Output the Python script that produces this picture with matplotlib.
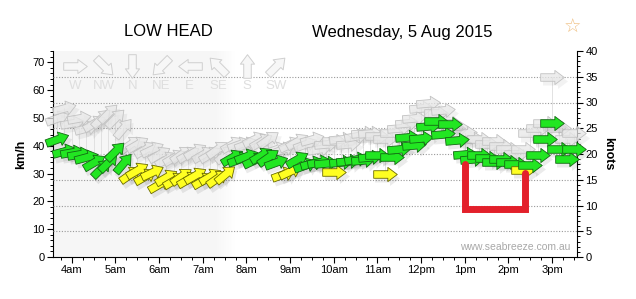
import matplotlib
matplotlib.use('Agg')
import matplotlib.pyplot as plt
import numpy as np
from matplotlib.path import Path
from matplotlib.markers import MarkerStyle
from matplotlib.transforms import Affine2D, ScaledTranslation
from matplotlib.ticker import MultipleLocator

plt.rcParams['font.family'] = ['Liberation Sans', 'DejaVu Sans']

# observations, 10 minute steps
times = ['03:40', '03:50',
         '04:00', '04:10', '04:20', '04:30', '04:40', '04:50',
         '05:00', '05:10', '05:20', '05:30', '05:40', '05:50',
         '06:00', '06:10', '06:20', '06:30', '06:40', '06:50',
         '07:00', '07:10', '07:20', '07:30', '07:40', '07:50',
         '08:00', '08:10', '08:20', '08:30', '08:40', '08:50',
         '09:00', '09:10', '09:20', '09:30', '09:40', '09:50',
         '10:00', '10:10', '10:20', '10:30', '10:40', '10:50',
         '11:00', '11:10', '11:20', '11:30', '11:40', '11:50',
         '12:00', '12:10', '12:20', '12:30', '12:40', '12:50',
         '13:00', '13:10', '13:20', '13:30', '13:40', '13:50',
         '14:00', '14:10', '14:20', '14:30', '14:40', '14:50',
         '15:00', '15:10', '15:20', '15:30']

avg_kts = [23.0, 20.5,
           20.3, 20.0, 19.5, 18.5, 17.3, 18.5,
           20.5, 18.3, 16.2, 16.8, 15.8, 16.5,
           14.2, 15.5, 15.0, 15.8, 15.2, 15.9,
           15.0, 15.7, 15.3, 16.2, 19.5, 19.0,
           19.6, 18.8, 19.9, 19.5, 18.5, 16.2,
           16.7, 19.0, 17.8, 18.3, 18.5, 18.3,
           16.5, 18.4, 18.6, 19.0, 18.8, 19.5,
           19.8, 16.1, 19.5, 21.0, 23.3, 21.8,
           23.2, 25.5, 26.5, 23.8, 25.8, 22.8,
           20.0, 19.0, 19.8, 19.2, 18.4, 19.0,
           18.5, 18.0, 16.9, 17.9, 19.8, 23.0,
           26.0, 21.0, 19.0, 21.0]

gust_kts = [27, 29,
            26, 27, 25, 26, 27, 28,
            27, 25, 22, 22, 21, 21,
            20, 19, 19.5, 20, 20, 20.5,
            20, 20, 21, 20, 22, 22,
            22, 23, 22.5, 23, 21, 21,
            22, 22.5, 22, 23, 21, 22,
            22.5, 23, 22, 23.5, 24, 24,
            23.5, 23, 24, 25, 26, 27,
            29, 30, 28, 28.5, 26, 25,
            24, 23, 23, 22, 22.5, 21.5,
            21, 20, 21, 24, 25, 26,
            35, 25, 23, 24]

wind_dir = [250, 255,
            260, 260, 255, 240, 225, 225,
            225, 220, 235, 240, 240, 245,
            240, 240, 240, 235, 240, 240,
            240, 240, 235, 230, 240, 250,
            250, 245, 240, 235, 250, 250,
            245, 240, 250, 255, 260, 265,
            270, 265, 265, 260, 265, 265,
            270, 270, 270, 265, 265, 265,
            265, 265, 270, 265, 270, 265,
            265, 265, 270, 270, 270, 270,
            270, 270, 270, 270, 270, 270,
            270, 270, 270, 270]

compass_names = ['W', 'NW', 'N', 'NE', 'E', 'SE', 'S', 'SW']
compass_dirs = [270, 315, 0, 45, 90, 135, 180, 225]

# red hand-drawn mark
mark_x = [13.0, 13.0, 14.38, 14.38]
mark_kts = [18.0, 9.4, 9.4, 16.3]


def hours(s):
    h, m = s.split(':')
    return int(h) + int(m) / 60


t = np.array([hours(s) for s in times])

verts = [(-1, -0.32), (0.2, -0.32), (0.2, -0.6), (1, 0),
         (0.2, 0.6), (0.2, 0.32), (-1, 0.32), (-1, -0.32)]
codes = [Path.MOVETO] + [Path.LINETO] * 6 + [Path.CLOSEPOLY]
ARROW = Path(verts, codes)


def arrow(direction):
    # arrow points where the wind goes to
    return MarkerStyle(ARROW, transform=Affine2D().rotate_deg(270 - direction))


fig = plt.figure(figsize=(6.36, 2.99), dpi=100)
ax = fig.add_axes([53 / 636, 1 - 257 / 299, 524 / 636, 206 / 299])
x0, x1 = 3.57, 15.57
ax.set_xlim(x0, x1)
ax.set_ylim(0, 40)

# night shading
fade = np.clip((7.75 - np.linspace(x0, x1, 600)) / 0.45, 0, 1)
ax.imshow(fade[None, :], extent=[x0, x1, 0, 40], aspect='auto', cmap='Greys',
          vmin=0, vmax=14, zorder=0, interpolation='bilinear')

for k in range(5, 40, 5):
    ax.axhline(k, color='#999999', lw=0.8, ls=(0, (1, 1.5)), zorder=1)

shadow = ax.transData + ScaledTranslation(2 / 72, -3 / 72, fig.dpi_scale_trans)
ms = 17

for i in range(len(t)):
    ax.plot([t[i], t[i]], [avg_kts[i], gust_kts[i]], color='#dddddd', lw=0.6, zorder=2)
for i in range(len(t)):
    m = arrow(wind_dir[i])
    ax.plot(t[i], gust_kts[i], marker=m, ms=ms + 1, mfc='#000000', mec='none',
            alpha=0.05, transform=shadow, zorder=2, clip_on=False)
    ax.plot(t[i], gust_kts[i], marker=m, ms=ms, mfc=(0.91, 0.91, 0.91, 0.75),
            mec='#c2c2c2', mew=0.6, zorder=3, clip_on=False)
for i in range(len(t)):
    m = arrow(wind_dir[i])
    if avg_kts[i] < 17:
        fc, ec = '#ffff22', '#6a6a00'
    else:
        fc, ec = '#22e622', '#136813'
    ax.plot(t[i], avg_kts[i], marker=m, ms=ms + 1, mfc='#000000', mec='none',
            alpha=0.08, transform=shadow, zorder=4, clip_on=False)
    ax.plot(t[i], avg_kts[i], marker=m, ms=ms, mfc=fc, mec=ec, mew=0.6,
            zorder=5, clip_on=False)

# compass key
for j, (name, d) in enumerate(zip(compass_names, compass_dirs)):
    xa = 0.042 + j * 0.0547
    ax.plot(xa, 0.925, marker=arrow(d), ms=ms, mfc='#f7f7f7', mec='#d0d0d0',
            mew=0.7, transform=ax.transAxes, zorder=3)
    ax.text(xa, 0.83, name, transform=ax.transAxes, ha='center', va='center',
            fontsize=9.5, color='#dedede', zorder=3)

ax.plot(mark_x, mark_kts, color='#e3202b', lw=5, solid_joinstyle='miter',
        solid_capstyle='round', zorder=6)

ax.text(0.988, 0.05, 'www.seabreeze.com.au', transform=ax.transAxes, ha='right',
        va='center', fontsize=7.5, color='#a8a8a8', zorder=6)

# axes styling
ax.spines['top'].set_visible(False)
ax.spines['left'].set_visible(False)
ax.xaxis.set_minor_locator(MultipleLocator(0.25))
hrs = np.arange(4, 16)
ax.set_xticks(hrs)
ax.set_xticklabels([f'{h}am' if h < 12 else ('12pm' if h == 12 else f'{h - 12}pm') for h in hrs])
ax.yaxis.tick_right()
ax.yaxis.set_label_position('right')
ax.set_yticks(range(0, 45, 5))
ax.yaxis.set_minor_locator(MultipleLocator(1))
ax.tick_params(which='major', length=4, width=0.8, labelsize=8, pad=2)
ax.tick_params(which='minor', length=2, width=0.7)
ax.set_ylabel('knots', rotation=270, fontweight='bold', fontsize=9, labelpad=12)

sec = ax.secondary_yaxis('left', functions=(lambda k: k * 1.852, lambda v: v / 1.852))
sec.set_yticks(range(0, 80, 10))
sec.yaxis.set_minor_locator(MultipleLocator(2))
sec.tick_params(which='major', length=4, width=0.8, labelsize=8, pad=2)
sec.tick_params(which='minor', length=2, width=0.7)
sec.set_ylabel('km/h', fontweight='bold', fontsize=9, labelpad=4)

fig.text(168 / 636, 1 - 32 / 299, 'LOW HEAD', ha='center', va='center', fontsize=12)
fig.text(402 / 636, 1 - 32 / 299, 'Wednesday, 5 Aug 2015', ha='center', va='center',
         fontsize=12)
fig.text(572 / 636, 1 - 27 / 299, '\u2606', ha='center', va='center', fontsize=14,
         color='#efbf80', family=['DejaVu Sans'])

fig.savefig('out.png', dpi=100)
